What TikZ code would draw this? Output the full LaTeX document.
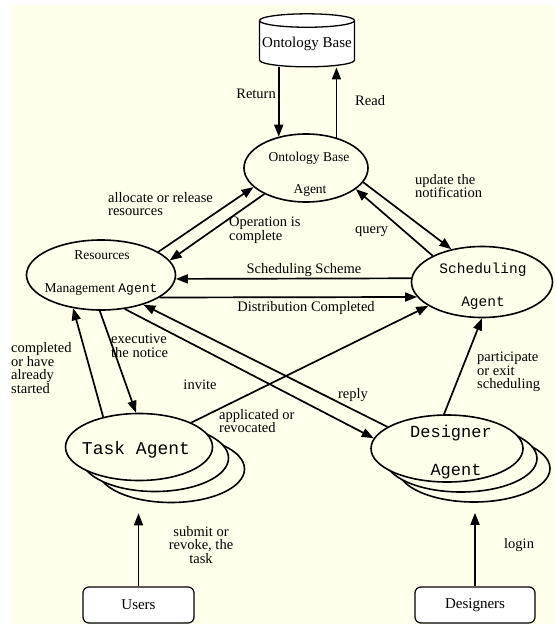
\documentclass[tikz,border=0pt]{standalone}
\usepackage{fontspec}
\setmainfont{Liberation Serif}
\setmonofont{Liberation Mono}
\usepackage{xcolor}
\usepackage{tikz}
\usetikzlibrary{shapes.geometric, arrows.meta, positioning}
\definecolor{cream}{RGB}{255,255,236}

\begin{document}
\begin{tikzpicture}[
    x=1pt, y=-1pt,
    agent/.style={ellipse, draw, line width=1.6pt, fill=cream, inner sep=0pt},
    box/.style={rectangle, draw, rounded corners=6pt, line width=1.2pt, fill=white, minimum height=36pt, font=\fontsize{15}{15}\selectfont},
    lbl/.style={inner sep=0pt, align=left, font=\fontsize{14.5}{13.5}\selectfont},
    arrow/.style={-{Triangle[length=12pt,width=9pt]}, line width=1.7pt}
]
    \useasboundingbox (0,0) rectangle (555,624);
    \fill[white] (0,0) rectangle (555,624);
    \fill[cream] (11,5) rectangle (555,624);

    % Ontology base
    \node[cylinder, shape border rotate=90, draw, line width=1.3pt, aspect=0.15, fill=white,
          minimum width=95pt, minimum height=53pt, inner sep=0pt,
          font=\fontsize{15}{15}\selectfont] (obase) at (307,44) {Ontology Base};

    % Agents
    \node[agent, minimum width=124pt, minimum height=68pt] (oba) at (306,168) {};
    \node[font=\fontsize{13.5}{13.5}\selectfont] (oba-t1) at (309,158) {Ontology Base};
    \node[font=\fontsize{13.5}{13.5}\selectfont] (oba-t2) at (310,190) {Agent};

    \node[agent, minimum width=149pt, minimum height=70pt] (rma) at (101,275) {};
    \node[font=\fontsize{13.5}{13.5}\selectfont] (rma-t1) at (102,255) {Resources};
    \node[font=\fontsize{13.5}{13.5}\selectfont] (rma-t2) at (101,290) {Management \texttt{\fontsize{13}{13}\selectfont Agent}};

    \node[agent, minimum width=141pt, minimum height=71pt] (sa) at (482,282) {};
    \node[font=\ttfamily\fontsize{14.5}{14.5}\selectfont] (sa-t1) at (483,270) {Scheduling};
    \node[font=\ttfamily\fontsize{14.5}{14.5}\selectfont] (sa-t2) at (483,303) {Agent};

    % Task agents (stacked)
    \node[agent, minimum width=147pt, minimum height=67pt] (ta3) at (171,469) {};
    \node[agent, minimum width=147pt, minimum height=67pt] (ta2) at (155,458) {};
    \node[agent, minimum width=147pt, minimum height=67pt] (ta) at (139,447) {};
    \node[font=\ttfamily\fontsize{18}{18}\selectfont] (ta-t) at (136,450) {Task Agent};

    % Designer agents (stacked)
    \node[agent, minimum width=152pt, minimum height=67pt] (da3) at (474,468.5) {};
    \node[agent, minimum width=152pt, minimum height=67pt] (da2) at (461,458.5) {};
    \node[agent, minimum width=152pt, minimum height=67pt] (da) at (447,448.5) {};
    \node[font=\ttfamily\fontsize{17}{17}\selectfont] (da-t1) at (451,433) {Designer};
    \node[font=\ttfamily\fontsize{17}{17}\selectfont] (da-t2) at (456,472) {Agent};

    % Users and designers
    \node[box, minimum width=111pt] (users) at (138.5,605) {Users};
    \node[box, minimum width=120pt] (designers) at (475,605) {Designers};

    % Arrows
    \draw[arrow] (obase.south -| oba.131) -- (oba.131);
    \draw[arrow] (oba.45) -- (oba.45 |- obase.south);
    \draw[arrow] (rma.22) -- (oba.200);
    \draw[arrow] (oba.212) -- (rma.12);
    \draw[arrow] (oba.346) -- (sa.133);
    \draw[arrow] (sa.152) -- (oba.337);
    \draw[arrow] (sa.177) -- (rma.357);
    \draw[arrow] (rma.339) -- (sa.193);
    \draw[arrow] (rma.268) -- (ta.95);
    \draw[arrow] (ta.140) -- (rma.230);
    \draw[arrow] (rma.305) -- (da.172);
    \draw[arrow] (da.160) -- (rma.325);
    \draw[arrow] (ta.25) -- (sa.204);
    \draw[arrow] (da.95) -- (sa.270);
    \draw[arrow, shorten >=10pt] (users) -- (users |- ta3.south);
    \draw[arrow, shorten >=10pt] (designers) -- (designers |- da3.south);

    % Labels
    \node[lbl, anchor=east] (l-return) at (276,94) {Return};
    \node[lbl, anchor=west] (l-read) at (355,101) {Read};
    \node[lbl, anchor=west] (l-update) at (415,186) {update the\\notification};
    \node[lbl, anchor=west] (l-alloc) at (108,204) {allocate or release\\resources};
    \node[lbl, anchor=west] (l-oper) at (229,230) {Operation is\\complete};
    \node[lbl, anchor=west] (l-query) at (355,232) {query};
    \node[lbl] (l-scheme) at (304,270) {Scheduling Scheme};
    \node[lbl] (l-distr) at (306,308) {Distribution Completed};
    \node[lbl, anchor=west] (l-compl) at (11,368) {completed\\or have\\already\\started};
    \node[lbl, anchor=west] (l-exec) at (111,346) {executive\\the notice};
    \node[lbl] (l-invite) at (200,385) {invite};
    \node[lbl] (l-reply) at (353,395) {reply};
    \node[lbl, anchor=west] (l-appl) at (219,421) {applicated or\\revocated};
    \node[lbl, anchor=west] (l-part) at (477,372) {participate\\or exit\\scheduling};
    \node[lbl, align=center] (l-submit) at (201,545) {submit or\\revoke, the\\task};
    \node[lbl, anchor=west] (l-login) at (504,545) {login};
\end{tikzpicture}
\end{document}
